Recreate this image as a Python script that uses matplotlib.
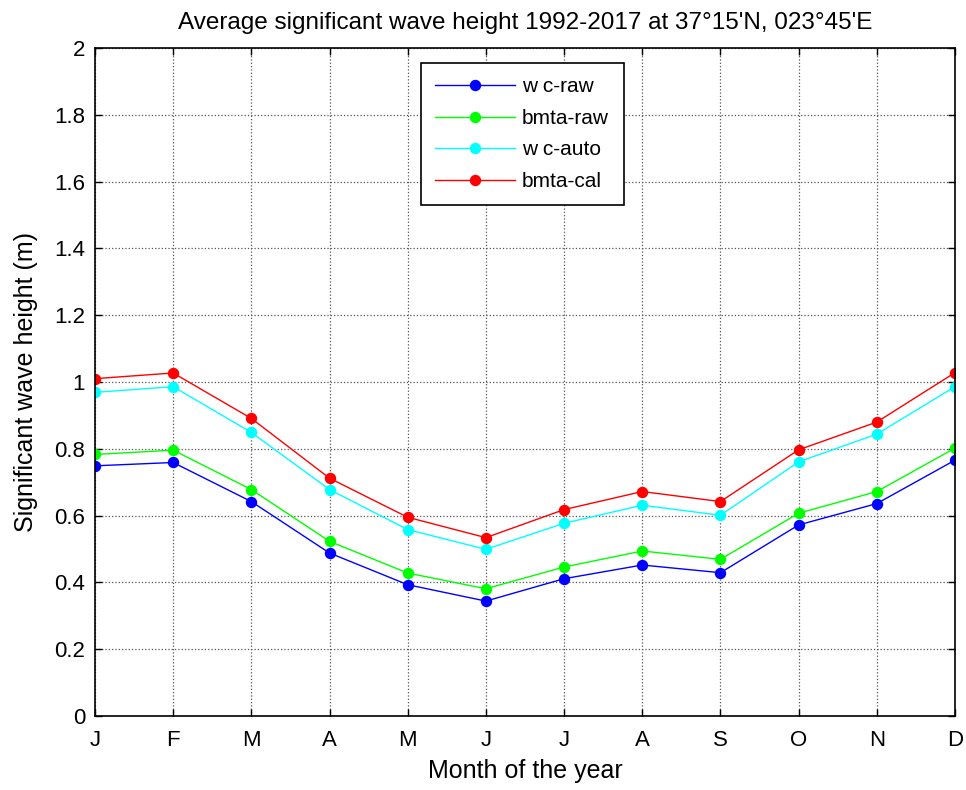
import matplotlib
matplotlib.use("Agg")
import matplotlib.pyplot as plt
import numpy as np

plt.rcParams['font.family'] = ['Liberation Sans', 'DejaVu Sans']

months = ['J', 'F', 'M', 'A', 'M', 'J', 'J', 'A', 'S', 'O', 'N', 'D']
wc_raw = [0.749, 0.759, 0.642, 0.488, 0.393, 0.344, 0.411, 0.452, 0.429, 0.572, 0.636, 0.766]
bmta_raw = [0.783, 0.796, 0.678, 0.523, 0.428, 0.381, 0.446, 0.494, 0.469, 0.607, 0.672, 0.802]
wc_auto = [0.969, 0.986, 0.849, 0.678, 0.558, 0.499, 0.577, 0.631, 0.601, 0.761, 0.844, 0.986]
bmta_cal = [1.010, 1.027, 0.891, 0.712, 0.595, 0.534, 0.618, 0.672, 0.642, 0.797, 0.880, 1.028]

series = [('w c-raw', wc_raw, '#0000ff'),
          ('bmta-raw', bmta_raw, '#00ff00'),
          ('w c-auto', wc_auto, '#00ffff'),
          ('bmta-cal', bmta_cal, '#ff0000')]

fig = plt.figure(figsize=(9.66, 7.9), dpi=100)
ax = fig.add_axes([0.0983, 0.0937, 0.8903, 0.8455])
x = np.arange(1, 13)
for name, vals, c in series:
    ax.plot(x, vals, '-o', color=c, lw=1.0, markersize=7.2, label=name)

ax.set_xlim(1, 12)
ax.set_ylim(0, 2)
ax.set_xticks(x)
ax.set_xticklabels(months)
ax.set_yticks(np.arange(0, 2.01, 0.2))
ax.set_yticklabels(['0', '0.2', '0.4', '0.6', '0.8', '1', '1.2', '1.4', '1.6', '1.8', '2'])
ax.tick_params(direction='in', top=True, right=True, labelsize=16, length=5, width=1)
ax.tick_params(axis='x', pad=10)
ax.tick_params(axis='y', pad=7)
ax.grid(True, linestyle=':', color='#555555', linewidth=0.9)
for s in ax.spines.values():
    s.set_linewidth(1.2)

ax.set_title("Average significant wave height 1992-2017 at 37°15'N, 023°45'E", fontsize=17.5, pad=14)
ax.set_xlabel('Month of the year', fontsize=18, labelpad=6)
ax.set_ylabel('Significant wave height (m)', fontsize=18, labelpad=12)

leg = ax.legend(loc='upper left', bbox_to_anchor=(0.379, 0.978), fontsize=15,
                fancybox=False, framealpha=1, edgecolor='black', borderpad=0.7,
                handlelength=3.8, handletextpad=0.35, labelspacing=0.6,
                borderaxespad=0)
leg.get_frame().set_linewidth(1.2)

fig.savefig('out.png', dpi=100)
